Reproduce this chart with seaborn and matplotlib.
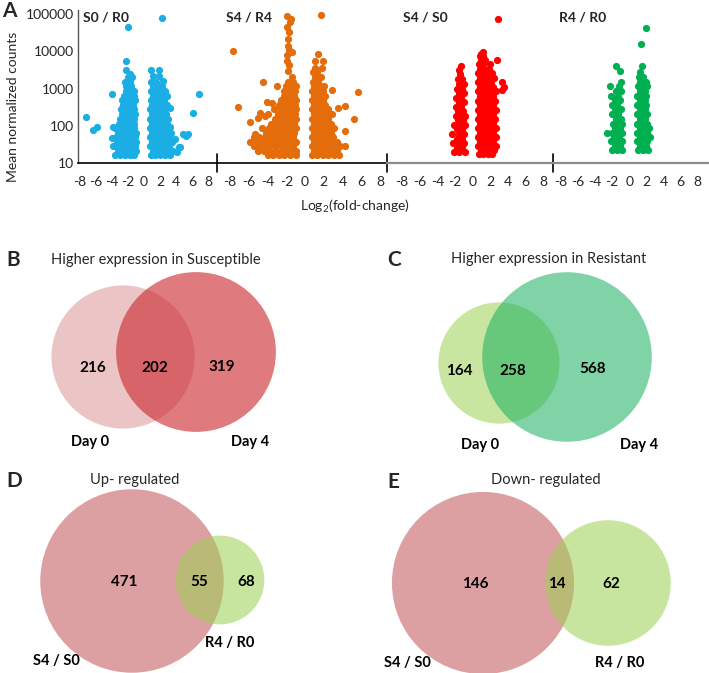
import numpy as np
import pandas as pd
import matplotlib
matplotlib.use("Agg")
import matplotlib.pyplot as plt
from matplotlib.patches import Circle
import seaborn as sns

# -----------------------------
# Panel A data: (log2 fold-change, mean normalized count)
# -----------------------------
s0_r0 = [
    # left column
    (-3.6, 16), (-3.0, 16), (-2.4, 16), (-1.8, 16), (-1.2, 16),
    (-3.3, 21), (-2.7, 21), (-2.1, 21), (-1.5, 21), (-1.0, 21),
    (-3.9, 28), (-3.5, 28), (-2.9, 28), (-2.3, 28), (-1.7, 28), (-1.1, 28),
    (-3.4, 37), (-2.8, 37), (-2.2, 37), (-1.6, 37), (-1.0, 37),
    (-4.0, 48), (-3.5, 49), (-2.9, 49), (-2.3, 49), (-1.7, 49), (-1.1, 49),
    (-3.3, 65), (-2.7, 65), (-2.1, 65), (-1.5, 65), (-1.0, 65),
    (-3.6, 87), (-3.0, 87), (-2.4, 87), (-1.8, 87), (-1.2, 87),
    (-3.1, 115), (-2.5, 115), (-1.9, 115), (-1.3, 115),
    (-3.0, 155), (-2.4, 155), (-1.8, 155), (-1.2, 155),
    (-2.8, 205), (-2.2, 205), (-1.6, 205), (-1.1, 205),
    (-2.9, 275), (-2.4, 275), (-1.8, 275), (-1.2, 275),
    (-2.6, 365), (-2.0, 365), (-1.4, 365),
    (-2.7, 490), (-2.1, 490), (-1.5, 490), (-1.1, 490),
    (-2.5, 650), (-1.9, 650), (-1.3, 650),
    (-2.3, 870), (-1.7, 870), (-1.3, 870),
    (-2.2, 1150), (-1.6, 1150),
    (-2.4, 1550), (-1.8, 1550),
    (-2.0, 2050), (-1.5, 2050),
    (-1.75, 2400), (-2.3, 3200), (-2.25, 5400), (-2.0, 44000),
    # right column
    (0.8, 16), (1.4, 16), (2.0, 16), (2.6, 16), (3.2, 16),
    (1.1, 21), (1.7, 21), (2.3, 21), (2.9, 21), (3.6, 21), (4.1, 20),
    (0.7, 28), (1.3, 28), (1.9, 28), (2.5, 28), (3.1, 28), (4.3, 27),
    (1.0, 37), (1.6, 37), (2.2, 37), (2.8, 37), (3.5, 37),
    (0.7, 49), (1.3, 49), (1.9, 49), (2.5, 49), (3.1, 49), (3.8, 45),
    (1.0, 65), (1.6, 65), (2.2, 65), (2.8, 65), (3.4, 65),
    (0.7, 87), (1.3, 87), (1.9, 87), (2.5, 87), (3.2, 92),
    (1.0, 115), (1.6, 115), (2.2, 115), (2.8, 115),
    (0.7, 155), (1.3, 155), (1.9, 155), (2.5, 155), (3.0, 150),
    (1.0, 205), (1.6, 205), (2.2, 205), (2.7, 205),
    (0.7, 275), (1.3, 275), (1.9, 275), (2.5, 275), (3.2, 310),
    (1.0, 365), (1.6, 365), (2.2, 365), (2.8, 365),
    (0.8, 490), (1.4, 490), (2.0, 490), (2.5, 490),
    (1.1, 650), (1.7, 650), (2.3, 650), (2.9, 650),
    (0.8, 870), (1.4, 870), (2.0, 870), (2.6, 880),
    (1.1, 1150), (1.7, 1150), (2.2, 1150),
    (0.9, 1550), (1.5, 1550), (2.4, 1600),
    (1.1, 2150), (1.9, 2150), (0.83, 3100), (1.8, 3100), (2.25, 78000),
    # scattered
    (-7.2, 175), (-6.4, 78), (-5.9, 94), (-4.0, 730), (-3.9, 94),
    (6.8, 730), (6.1, 220), (4.9, 60), (5.5, 60), (5.2, 52), (4.5, 27),
]

s4_r4 = [
    # left blob
    (-4.0, 16), (-3.4, 16), (-2.8, 16), (-2.2, 16), (-1.6, 16), (-1.0, 16),
    (-5.0, 21), (-4.4, 21), (-3.8, 21), (-3.2, 21), (-2.6, 21), (-2.0, 21), (-1.4, 21), (-1.0, 21),
    (-5.5, 28), (-4.9, 28), (-4.3, 28), (-3.7, 28), (-3.1, 28), (-2.5, 28), (-1.9, 28), (-1.3, 28),
    (-5.9, 37), (-5.2, 37), (-4.6, 37), (-4.0, 37), (-3.4, 37), (-2.8, 37), (-2.2, 37), (-1.6, 37), (-1.0, 37),
    (-5.5, 49), (-4.9, 49), (-4.3, 49), (-3.7, 49), (-3.1, 49), (-2.5, 49), (-1.9, 49), (-1.3, 49),
    (-5.3, 60), (-4.2, 65), (-3.6, 65), (-3.0, 65), (-2.4, 65), (-1.8, 65), (-1.2, 65),
    (-4.6, 87), (-3.9, 87), (-3.3, 87), (-2.7, 87), (-2.1, 87), (-1.5, 87), (-1.0, 87),
    (-5.9, 125), (-3.6, 115), (-3.0, 115), (-2.4, 115), (-1.8, 115), (-1.2, 115),
    (-5.0, 160), (-4.3, 180), (-3.2, 155), (-2.6, 155), (-2.0, 155), (-1.4, 155), (-1.0, 155),
    (-4.8, 220), (-4.0, 205), (-2.9, 205), (-2.3, 205), (-1.7, 205), (-1.1, 205),
    (-3.3, 275), (-2.6, 275), (-2.0, 275), (-1.4, 275), (-1.0, 275),
    (-2.8, 365), (-2.2, 365), (-1.6, 365), (-1.1, 365),
    (-4.1, 450), (-3.55, 420), (-2.6, 490), (-2.0, 490), (-1.4, 490), (-1.0, 490),
    (-2.3, 650), (-1.7, 650), (-1.2, 650),
    (-2.2, 870), (-1.6, 870), (-1.1, 870),
    (-3.0, 1150), (-2.0, 1150), (-1.4, 1150), (-1.0, 1150),
    (-4.5, 1550), (-1.8, 1550), (-1.3, 1550),
    (-1.4, 2000), (-1.85, 3000), (-1.7, 4400), (-1.9, 5500), (-1.9, 8000),
    (-1.4, 9400), (-1.7, 11000), (-1.8, 14000), (-1.85, 22000), (-1.7, 33000),
    (-1.9, 45000), (-1.6, 60000), (-1.5, 73000), (-1.9, 90000),
    (-7.7, 10000), (-7.2, 320),
    # right column
    (0.7, 16), (1.3, 16), (1.9, 16), (2.5, 16), (3.1, 16), (3.6, 16),
    (1.0, 21), (1.6, 21), (2.2, 21), (2.8, 21), (3.4, 21),
    (0.7, 28), (1.3, 28), (1.9, 28), (2.5, 28), (3.1, 28), (3.7, 28), (4.27, 29),
    (1.0, 37), (1.6, 37), (2.2, 37), (2.8, 37), (3.4, 37),
    (0.7, 49), (1.3, 49), (1.9, 49), (2.5, 49), (3.0, 49),
    (1.0, 65), (1.6, 65), (2.2, 65), (2.8, 65), (4.27, 73),
    (0.7, 87), (1.3, 87), (1.9, 87), (2.5, 87), (3.1, 87),
    (1.0, 115), (1.6, 115), (2.2, 115), (2.8, 115),
    (0.7, 155), (1.3, 155), (1.9, 155), (2.5, 155), (5.2, 150),
    (1.0, 205), (1.6, 205), (2.2, 205), (2.9, 205),
    (0.7, 275), (1.3, 275), (1.9, 275), (2.4, 275), (3.5, 310),
    (1.0, 365), (1.6, 365), (2.1, 365), (4.27, 350),
    (0.7, 490), (1.3, 490), (1.9, 490),
    (1.0, 650), (1.6, 650), (2.1, 650),
    (0.7, 870), (1.3, 870), (1.9, 870), (2.85, 900), (5.65, 830),
    (1.0, 1150), (1.6, 1150), (2.0, 1150),
    (0.8, 1550), (1.4, 1550),
    (1.1, 2050), (1.7, 2050),
    (0.9, 2750), (1.3, 2750),
    (1.1, 3650), (1.8, 3650),
    (1.07, 5500), (1.9, 5500), (1.4, 8300), (1.7, 95000),
]

s4_s0 = [
    # left column
    (-2.1, 20), (-1.5, 20), (-0.9, 20),
    (-1.8, 26), (-1.2, 26),
    (-2.2, 34), (-1.6, 34), (-1.0, 34),
    (-1.8, 45), (-1.2, 45),
    (-2.3, 60), (-1.6, 60), (-1.0, 60),
    (-1.8, 80), (-1.2, 80),
    (-2.1, 105), (-1.5, 105), (-0.9, 105),
    (-1.7, 140), (-1.1, 140),
    (-1.9, 185), (-1.4, 185), (-0.9, 185),
    (-1.7, 245), (-1.1, 245),
    (-1.9, 325), (-1.3, 325),
    (-1.6, 430), (-1.0, 430),
    (-1.9, 570), (-1.3, 570),
    (-1.5, 760), (-1.0, 760),
    (-1.8, 1000), (-1.2, 1000),
    (-1.5, 1350), (-1.0, 1350),
    (-1.7, 1800), (-1.2, 1800),
    (-1.4, 2400), (-1.6, 3200), (-1.3, 4000),
    # right column
    (0.7, 17), (1.2, 17), (1.7, 17), (2.2, 17),
    (0.9, 22), (1.4, 22), (1.9, 22), (2.4, 22),
    (0.6, 29), (1.1, 29), (1.6, 29), (2.1, 29), (2.6, 29),
    (0.8, 38), (1.3, 38), (1.8, 38), (2.3, 38),
    (0.6, 50), (1.1, 50), (1.6, 50), (2.1, 50), (2.6, 50),
    (0.8, 66), (1.3, 66), (1.8, 66), (2.3, 66),
    (0.6, 88), (1.1, 88), (1.6, 88), (2.1, 88), (2.6, 88),
    (0.8, 116), (1.3, 116), (1.8, 116), (2.3, 116),
    (0.6, 154), (1.1, 154), (1.6, 154), (2.1, 154), (2.5, 154),
    (0.8, 204), (1.3, 204), (1.8, 204), (2.3, 204),
    (0.6, 270), (1.1, 270), (1.6, 270), (2.1, 270), (2.6, 270),
    (0.8, 360), (1.3, 360), (1.8, 360), (2.3, 360),
    (0.6, 475), (1.1, 475), (1.6, 475), (2.1, 475), (2.5, 475),
    (0.8, 630), (1.3, 630), (1.8, 630), (2.3, 630),
    (0.6, 840), (1.1, 840), (1.6, 840), (2.1, 840), (2.7, 840), (3.3, 900),
    (0.8, 1100), (1.3, 1100), (1.8, 1100), (2.3, 1100), (3.6, 1100),
    (0.6, 1470), (1.1, 1470), (1.6, 1470), (2.1, 1470), (3.3, 1500),
    (0.8, 1950), (1.3, 1950), (1.8, 1950), (2.4, 1950),
    (0.6, 2600), (1.1, 2600), (1.6, 2600), (2.2, 2600),
    (0.8, 3450), (1.3, 3450), (1.8, 3450),
    (0.7, 4600), (1.2, 4600), (2.0, 4600),
    (0.9, 6000), (1.4, 6000), (2.8, 6000),
    (0.8, 7600), (1.2, 7600), (0.9, 8500), (1.2, 9500),
    (2.9, 76000),
]

r4_r0 = [
    # left column
    (-2.0, 22), (-1.4, 22), (-0.8, 22),
    (-1.7, 29), (-1.1, 29),
    (-2.1, 38), (-1.5, 38), (-0.9, 38),
    (-1.8, 50), (-1.2, 50),
    (-2.55, 66), (-2.0, 66), (-1.4, 66), (-0.9, 66),
    (-1.7, 88), (-1.1, 88),
    (-1.9, 115), (-1.3, 115), (-0.8, 115),
    (-1.6, 155), (-1.0, 155),
    (-2.0, 205), (-1.3, 205),
    (-1.7, 275), (-1.0, 275),
    (-2.0, 365), (-1.4, 365),
    (-1.7, 490), (-1.1, 490),
    (-2.1, 650), (-1.3, 650),
    (-1.6, 870), (-1.0, 870),
    (-2.2, 1150), (-1.2, 1150),
    (-1.0, 1550), (-1.1, 2900), (-1.55, 4000),
    # right column
    (1.0, 22), (1.6, 22), (2.2, 22),
    (1.3, 29), (1.9, 29),
    (0.9, 38), (1.5, 38), (2.1, 38),
    (1.2, 50), (1.8, 50), (2.4, 50),
    (0.9, 66), (1.5, 66), (2.1, 66),
    (1.2, 88), (1.8, 88), (2.3, 88),
    (0.9, 115), (1.5, 115), (2.1, 115),
    (1.2, 155), (1.8, 155),
    (0.9, 205), (1.5, 205), (2.1, 205),
    (1.2, 275), (1.8, 275),
    (0.9, 365), (1.5, 365), (2.0, 365),
    (1.2, 490), (1.8, 490),
    (0.9, 650), (1.5, 650), (2.0, 650),
    (1.2, 870), (1.8, 870),
    (1.0, 1150), (1.6, 1150), (2.1, 1150),
    (1.3, 1550), (1.9, 1550),
    (1.1, 2050), (1.6, 2050),
    (1.3, 2750), (1.5, 4000),
    (1.33, 15500), (1.96, 43000),
]

comparisons = ["S0 / R0", "S4 / R4", "S4 / S0", "R4 / R0"]
point_sets = [s0_r0, s4_r4, s4_s0, r4_r0]
point_colors = ["#1AAEE5", "#E46C0A", "#FF0000", "#00B050"]
y_ticks = [10, 100, 1000, 10000, 100000]
x_ticks = [-8, -6, -4, -2, 0, 2, 4, 6, 8]

# -----------------------------
# Venn data: (only A, both, only B)
# -----------------------------
venn_b = [216, 202, 319]
venn_c = [164, 258, 568]
venn_d = [471, 55, 68]
venn_e = [146, 14, 62]

# -----------------------------
# Style
# -----------------------------
sns.set_style("white")
plt.rcParams["font.family"] = ["Lato", "DejaVu Sans"]
plt.rcParams["mathtext.fontset"] = "custom"
plt.rcParams["mathtext.rm"] = "Lato"

W, H = 709, 673
fig = plt.figure(figsize=(W / 100, H / 100), dpi=100)


def fx(px):
    return px / W


def fy(py):
    return 1 - py / H


# -----------------------------
# Venn panels (pixel coordinates overlay)
# -----------------------------
ov = fig.add_axes([0, 0, 1, 1])
ov.set_xlim(0, W)
ov.set_ylim(H, 0)
ov.axis("off")


def venn(counts, centers, k, colors, alpha, label_pos, names, name_pos):
    left_total = counts[0] + counts[1]
    right_total = counts[1] + counts[2]
    r1 = k * np.sqrt(left_total)
    r2 = k * np.sqrt(right_total)
    ov.add_patch(Circle(centers[0], r1, facecolor=colors[0], edgecolor="none"))
    ov.add_patch(Circle(centers[1], r2, facecolor=colors[1], edgecolor="none", alpha=alpha))
    for val, pos in zip(counts, label_pos):
        ov.text(pos[0], pos[1], str(val), ha="center", va="center",
                fontsize=11, fontweight="bold", color="black")
    for nm, pos in zip(names, name_pos):
        ov.text(pos[0], pos[1], nm, ha="center", va="center",
                fontsize=10.5, fontweight="bold", color="black")


venn(venn_b, [(123, 357), (196, 352)], 3.5, ["#EBC5C6", "#CA232A"], 0.6,
     [(93, 368), (155, 368), (222, 367)], ["Day 0", "Day 4"], [(90, 442), (250, 442)])
venn(venn_c, [(499, 363), (567, 357)], 2.95, ["#C8E6A0", "#18B060"], 0.55,
     [(459, 371), (513, 371), (593, 369)], ["Day 0", "Day 4"], [(480, 445), (639, 445)])
venn(venn_d, [(132, 581), (220, 580)], 4.0, ["#DDA0A2", "#9BD152"], 0.55,
     [(124, 582), (199, 582), (246, 582)], ["S4 / S0", "R4 / R0"], [(56, 661), (230, 643)])
venn(venn_e, [(483, 583), (608, 583)], 7.2, ["#DDA0A2", "#9BD152"], 0.55,
     [(475, 584), (557, 584), (611, 584)], ["S4 / S0", "R4 / R0"], [(407, 663), (620, 663)])

venn_titles = [("Higher expression in Susceptible", 156, 260),
               ("Higher expression in Resistant", 549, 259),
               ("Up- regulated", 135, 480),
               ("Down- regulated", 546, 480)]
for t, px, py in venn_titles:
    fig.text(fx(px), fy(py), t, ha="center", va="center", fontsize=10.5)

for lab, px, py in [("A", 2, 11), ("B", 6, 260), ("C", 387, 260), ("D", 6, 481), ("E", 387, 482)]:
    fig.text(fx(px), fy(py), lab, ha="left", va="center", fontsize=15, fontweight="bold")

# -----------------------------
# Panel A: four volcano-style strips
# -----------------------------
edges = [78, 217, 387, 553, 709]
xlims = [(-8.25, 9.1), (-9.4, 8.75), (-9.7, 9.1), (-8.9, 9.3)]
title_px = [83, 226, 403, 559]
ax_bottom, ax_top = 163, 10

for i, pts in enumerate(point_sets):
    ax = fig.add_axes([fx(edges[i]), fy(ax_bottom),
                       fx(edges[i + 1]) - fx(edges[i]), (ax_bottom - ax_top) / H])
    ax.patch.set_alpha(0)
    df = pd.DataFrame(pts, columns=["lfc", "count"])
    sns.scatterplot(data=df, x="lfc", y="count", ax=ax, color=point_colors[i],
                    s=27, linewidth=0, alpha=1)
    ax.set_yscale("log")
    ax.set_ylim(10, 130000)
    ax.set_xlim(*xlims[i])
    ax.set_xticks(x_ticks)
    ax.set_xticklabels([str(v) for v in x_ticks], fontsize=10)
    ax.tick_params(axis="x", length=0, pad=9)
    ax.set_xlabel("")
    ax.set_ylabel("")
    ax.minorticks_off()
    for sp in ["top", "right"]:
        ax.spines[sp].set_visible(False)
    if i == 0:
        ax.set_yticks(y_ticks)
        ax.set_yticklabels([str(v) for v in y_ticks], fontsize=10)
        ax.tick_params(axis="y", length=0, pad=3)
        ax.spines["left"].set_color("#555555")
        ax.spines["left"].set_linewidth(1.0)
    else:
        ax.set_yticks([])
        ax.spines["left"].set_visible(False)
        ax.plot([0, 0], [-0.06, 0.06], transform=ax.transAxes, color="black",
                lw=1.2, clip_on=False)
    if i < 2:
        ax.spines["bottom"].set_color("black")
        ax.spines["bottom"].set_linewidth(1.2)
    else:
        ax.spines["bottom"].set_color("#8C8C8C")
        ax.spines["bottom"].set_linewidth(1.6)
    fig.text(fx(title_px[i]), fy(17), comparisons[i], ha="left", va="center",
             fontsize=10, fontweight="bold")

fig.text(fx(13), fy(107), "Mean normalized counts", rotation=90, ha="center",
         va="center", fontsize=10)
fig.text(fx(355), fy(206), "Log$_2$(fold-change)", ha="center", va="center", fontsize=10)

fig.savefig("out.png", dpi=100)
